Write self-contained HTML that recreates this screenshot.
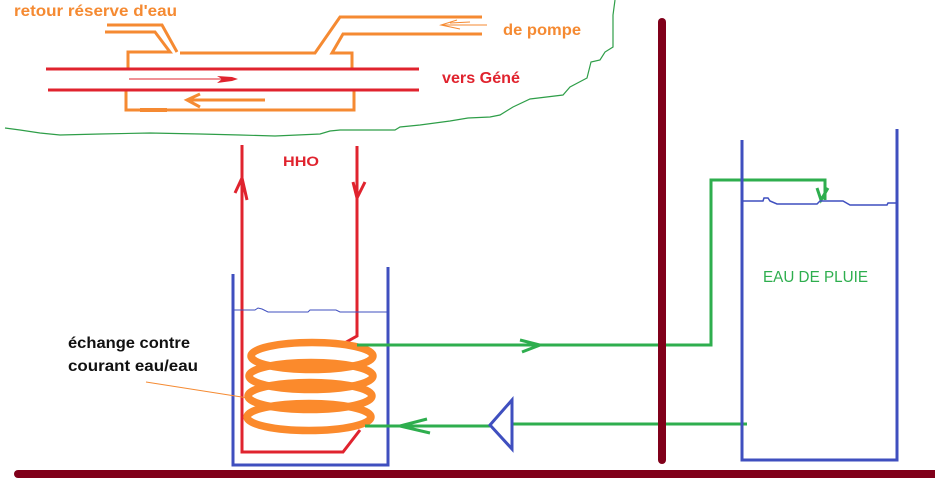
<!DOCTYPE html>
<html><head><meta charset="utf-8"><style>
html,body{margin:0;padding:0;background:#fff;}
svg{display:block;}
text{font-family:"Liberation Sans",Arial,sans-serif;}
</style></head><body>
<svg width="935" height="490" viewBox="0 0 935 490" xmlns="http://www.w3.org/2000/svg">
<!-- green ground contour -->
<polyline fill="none" stroke="#2e9e48" stroke-width="1.2" points="5,128 20,130 40,133 60,135 100,134 150,133 200,134 240,135 275,136 320,134 330,131 340,130 395,130 400,127 420,125 450,121 468,118 490,117 500,115 513,107 530,99 563,95 570,87 587,78 591,62 600,60 605,52 613,47 613,15 615,0"/>

<!-- orange pipes top -->
<g fill="none" stroke="#f58a32" stroke-width="3" stroke-linejoin="miter">
<polyline points="107,25 162,25 177,52"/>
<polyline points="105,32 155,32 170,52 128,52 128,69"/>
<polyline points="180,53 315,53 340,17 482,17"/>
<polyline points="482,34 343,34 332,53 352,53 352,68"/>
<polyline points="126,90 126,110 354,110 354,90"/>
<line x1="187" y1="100" x2="265" y2="100"/>
<polyline points="200,94 187,100 200,107"/>
<line x1="140" y1="110" x2="167" y2="110" stroke-width="4"/>
</g>
<g fill="none" stroke="#f58a32" stroke-width="1">
<line x1="442" y1="25" x2="487" y2="25"/>
<polyline points="457,20 441,25 460,29"/>
<line x1="450" y1="23" x2="470" y2="22"/>
</g>

<!-- red pipes -->
<g stroke="#e0232e" stroke-width="3" fill="none">
<line x1="46" y1="69" x2="419" y2="69"/>
<line x1="48" y1="90" x2="419" y2="90"/>
</g>
<line x1="129" y1="79" x2="222" y2="79" stroke="#e0232e" stroke-width="1"/>
<polygon points="217,76 232,77 238,79 232,81 217,83 222,79" fill="#e0232e"/>

<!-- labels top -->
<text x="14" y="16" font-size="16" font-weight="bold" fill="#f58a32" textLength="163" lengthAdjust="spacingAndGlyphs">retour réserve d'eau</text>
<text x="503" y="35" font-size="16" font-weight="bold" fill="#f58a32" textLength="78" lengthAdjust="spacingAndGlyphs">de pompe</text>
<text x="442" y="83" font-size="16" font-weight="bold" fill="#e0232e" textLength="78" lengthAdjust="spacingAndGlyphs">vers Géné</text>
<text x="283" y="166" font-size="14" font-weight="bold" fill="#e0232e" textLength="36" lengthAdjust="spacingAndGlyphs">HHO</text>

<!-- HHO red lines -->
<g stroke="#e0232e" stroke-width="3" fill="none">
<polyline points="242,145 242,452 343,452 360,430"/>
<polyline points="235,193 242,178 247,200"/>
<polyline points="357,146 357,336 341,345"/>
<polyline points="353,182 357,198 365,182"/>
</g>

<!-- left tank -->
<polyline points="233,274 233,465 388,465 388,267" fill="none" stroke="#3f4fbf" stroke-width="3"/>
<polyline points="234,310 255,310 258,308 262,309 268,312 308,312 310,310 336,310 340,312 388,312" fill="none" stroke="#3f4fbf" stroke-width="1"/>

<!-- coil -->
<g fill="none" stroke="#fb8a2c" stroke-width="7.5">
<ellipse cx="312" cy="356" rx="61" ry="13.5"/>
<ellipse cx="311" cy="376" rx="62" ry="13.5"/>
<ellipse cx="310" cy="396" rx="62" ry="13.5"/>
<ellipse cx="309" cy="417" rx="62" ry="13.5"/>
</g>
<line x1="146" y1="382" x2="248" y2="398" stroke="#f58a32" stroke-width="1"/>

<text x="68" y="348" font-size="16" font-weight="bold" fill="#111" textLength="122" lengthAdjust="spacingAndGlyphs">échange contre</text>
<text x="68" y="371" font-size="16" font-weight="bold" fill="#111" textLength="130" lengthAdjust="spacingAndGlyphs">courant eau/eau</text>

<!-- green circuit -->
<g stroke="#2eae4e" stroke-width="3" fill="none">
<polyline points="357,345 711,345 711,180 825,180 825,200"/>
<polyline points="520,340 540,345 522,352"/>
<polyline points="817,188 821,200 828,188"/>
<line x1="365" y1="426" x2="490" y2="426"/>
<polyline points="427,419 400,426 430,433"/>
<line x1="512" y1="424" x2="747" y2="424"/>
</g>

<!-- pump triangle -->
<polygon points="490,425 512,400 512,449" fill="none" stroke="#3f4fbf" stroke-width="3"/>

<!-- wall pole -->
<line x1="662" y1="22" x2="662" y2="460" stroke="#80001a" stroke-width="8" stroke-linecap="round"/>
<!-- ground -->
<line x1="18" y1="474" x2="940" y2="474" stroke="#80001a" stroke-width="8" stroke-linecap="round"/>

<!-- right tank -->
<polyline points="742,140 742,460 897,460 897,129" fill="none" stroke="#3f4fbf" stroke-width="3"/>
<polyline points="742,201 763,201 764,198 768,198 770,201 777,204 817,204 820,201 843,201 850,205 887,205 888,203 897,203" fill="none" stroke="#3f4fbf" stroke-width="1.5"/>
<text x="763" y="282" font-size="16" fill="#2eae4e" textLength="105" lengthAdjust="spacingAndGlyphs">EAU DE PLUIE</text>
</svg>
</body></html>
